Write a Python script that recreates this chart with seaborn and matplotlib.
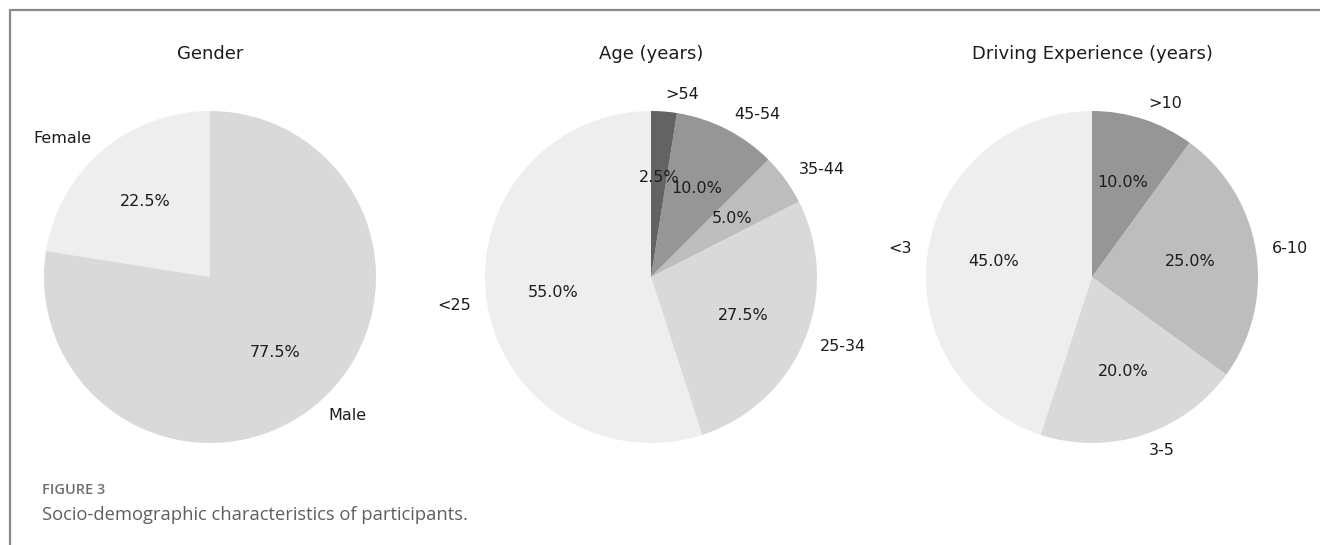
import matplotlib
matplotlib.use("Agg")
import matplotlib.pyplot as plt
from matplotlib.lines import Line2D
import seaborn as sns

# Survey breakdowns
gender_labels = ["Female", "Male"]
gender_values = [22.5, 77.5]

age_labels = ["<25", "25-34", "35-44", "45-54", ">54"]
age_values = [55.0, 27.5, 5.0, 10.0, 2.5]

exp_labels = ["<3", "3-5", "6-10", ">10"]
exp_values = [45.0, 20.0, 25.0, 10.0]

titles = ["Gender", "Age (years)", "Driving Experience (years)"]

# Grey shades, lightest first
greys = ["#eeeeee", "#d9d9d9", "#bdbdbd", "#969696", "#636363"]

sns.set_theme(style="white")
plt.rcParams["font.family"] = ["DejaVu Sans"]

W, H = 1320, 545
fig = plt.figure(figsize=(W / 100, H / 100), dpi=100)

radius_px = 166
box_px = radius_px * 2.5
centers_x = [210, 651, 1092]
center_y = H - 277

panels = [
    (gender_labels, gender_values),
    (age_labels, age_values),
    (exp_labels, exp_values),
]

for cx, title, (labels, values) in zip(centers_x, titles, panels):
    ax = fig.add_axes([(cx - box_px / 2) / W, (center_y - box_px / 2) / H,
                       box_px / W, box_px / H])
    ax.pie(values, labels=labels, colors=greys[:len(values)],
           autopct="%1.1f%%", startangle=90, counterclock=True,
           wedgeprops={"linewidth": 0, "edgecolor": "none"},
           textprops={"fontsize": 11.5, "color": "#1c1c1c"})
    ax.set_xlim(-1.25, 1.25)
    ax.set_ylim(-1.25, 1.25)
    ax.set_aspect("equal")
    ax.text(0, 1.345, title, ha="center", va="center", fontsize=13,
            color="#1c1c1c", transform=ax.transData)

# Frame lines along the top and left edges
fig.add_artist(Line2D([10 / W, 1.0], [1 - 10 / H, 1 - 10 / H],
                      transform=fig.transFigure, color="#8a8a8a", lw=1.6))
fig.add_artist(Line2D([10 / W, 10 / W], [0, 1 - 10 / H],
                      transform=fig.transFigure, color="#8a8a8a", lw=1.6))

fig.text(42 / W, 1 - 490 / H, "FIGURE 3", ha="left", va="center",
         fontsize=10.5, color="#6f6f6f", family="Open Sans", fontweight="semibold")
fig.text(42 / W, 1 - 515 / H, "Socio-demographic characteristics of participants.",
         ha="left", va="center", fontsize=13.2, color="#5f5f5f", family="Open Sans")

fig.savefig("out.png", dpi=100, facecolor="white")
